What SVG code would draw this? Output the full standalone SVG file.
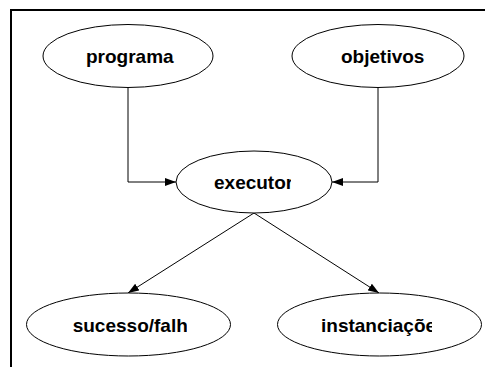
<svg xmlns="http://www.w3.org/2000/svg" width="485" height="367" viewBox="0 0 485 367">
<style>
.n ellipse{fill:#fff;stroke:#000;stroke-width:1}
.n text{font-family:"Liberation Sans",Arial,sans-serif;font-weight:bold;font-size:19px;fill:#000}
.e{fill:none;stroke:#000;stroke-width:1}
</style>
<defs>
<marker id="ah" markerWidth="11" markerHeight="8" refX="11" refY="4" orient="auto" markerUnits="userSpaceOnUse">
<path d="M0,0 L11,4 L0,8 Z" fill="#000"/>
</marker>
<clipPath id="c1"><rect x="150" y="160" width="141" height="40"/></clipPath>
<clipPath id="c2"><rect x="30" y="300" width="157" height="40"/></clipPath>
<clipPath id="c3"><rect x="290" y="300" width="142" height="40"/></clipPath>
</defs>
<rect x="0" y="0" width="485" height="367" fill="#fff"/>
<path d="M11,367 V10 H485" fill="none" stroke="#000" stroke-width="2"/>
<g id="connectors">
<path class="e" d="M128,88 V182 H176" marker-end="url(#ah)"/>
<path class="e" d="M378,88 V182 H332" marker-end="url(#ah)"/>
<path class="e" d="M254,213 L128,293" marker-end="url(#ah)"/>
<path class="e" d="M254,213 L379,293" marker-end="url(#ah)"/>
</g>
<g id="programa" class="n">
<ellipse cx="128" cy="56" rx="85" ry="31.5"/>
<text x="86" y="63">programa</text>
</g>
<g id="objetivos" class="n">
<ellipse cx="378" cy="56" rx="86" ry="31.5"/>
<text x="341" y="63">objetivos</text>
</g>
<g id="executor" class="n">
<ellipse cx="254" cy="182" rx="78" ry="31"/>
<text x="214" y="189" clip-path="url(#c1)">executor</text>
</g>
<g id="sucesso" class="n">
<ellipse cx="128.5" cy="324.5" rx="102" ry="31.5"/>
<text x="72.7" y="332" clip-path="url(#c2)">sucesso/falha</text>
</g>
<g id="instanciacoes" class="n">
<ellipse cx="379.5" cy="324.5" rx="102" ry="31.5"/>
<text x="321" y="332" clip-path="url(#c3)">instanciações</text>
</g>
</svg>
